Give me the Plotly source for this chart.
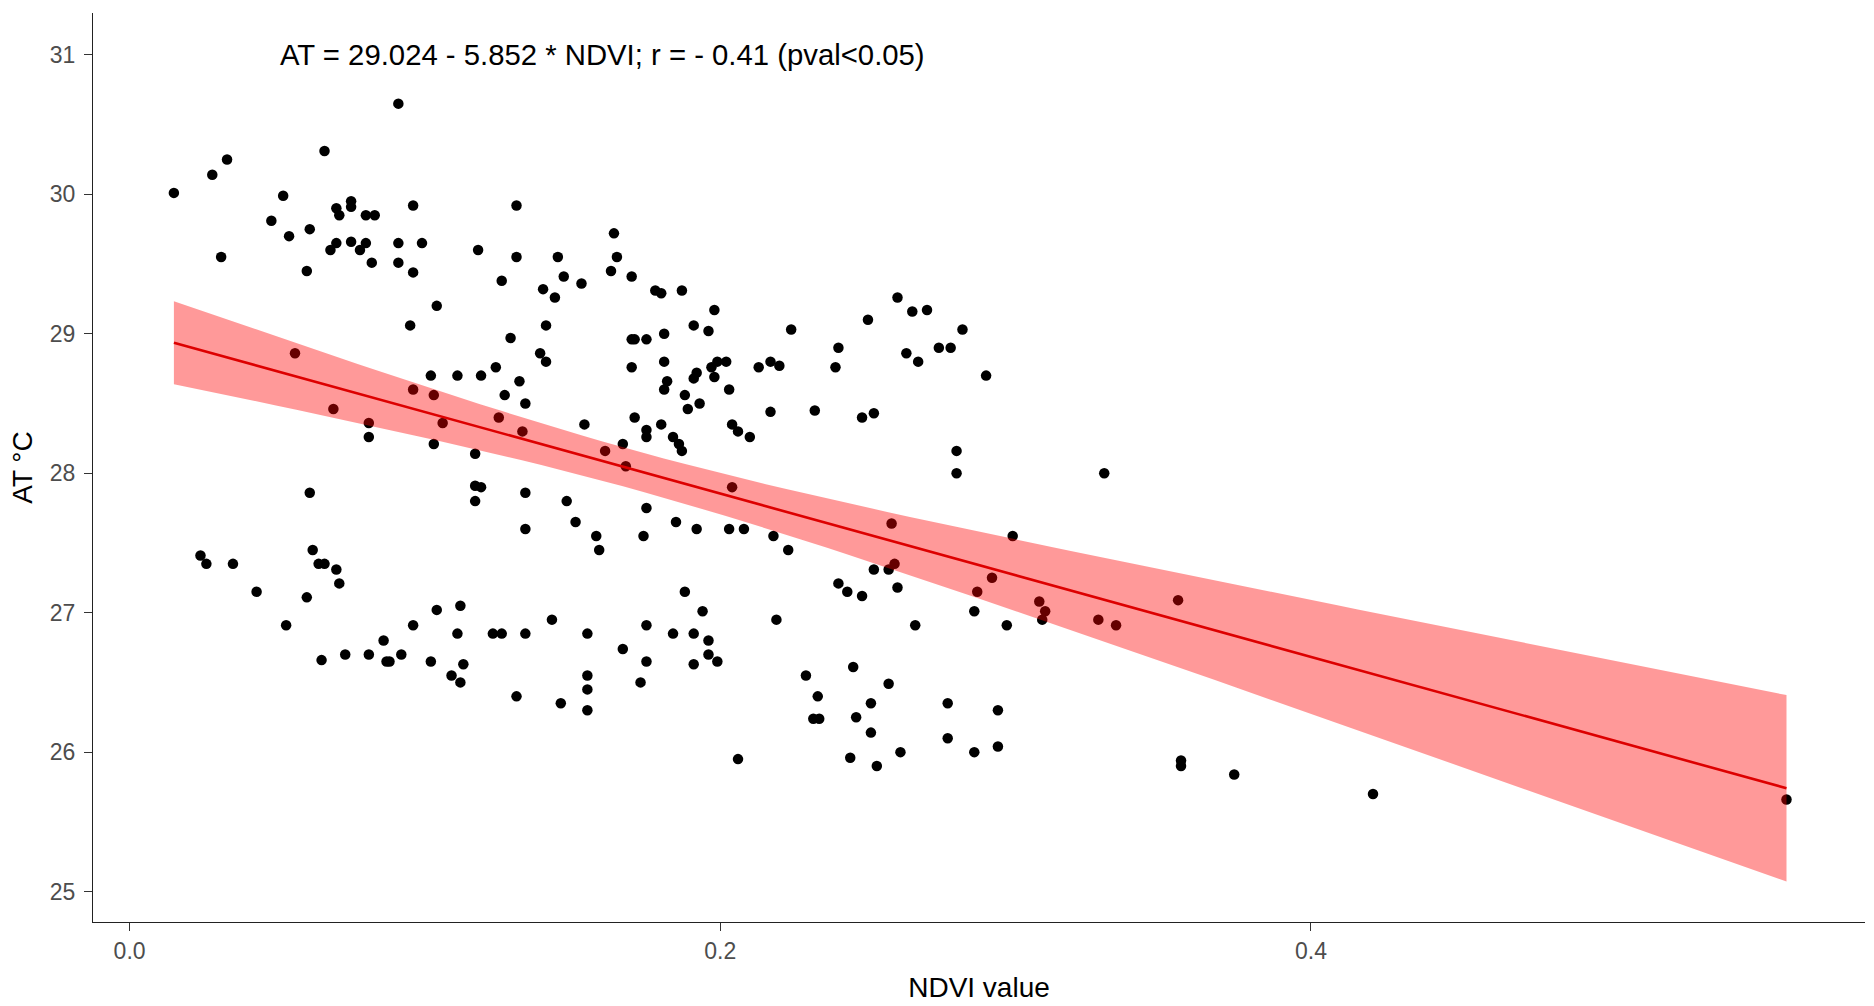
import numpy as np
import plotly.graph_objects as go

# NDVI values (x) and air temperature AT (y)
ndvi = [
    0.015, 0.028, 0.033, 0.031, 0.091, 0.066, 0.052, 0.048, 0.054, 0.061,
    0.060, 0.070, 0.071, 0.075, 0.075, 0.080, 0.083, 0.068, 0.070, 0.075,
    0.078, 0.080, 0.082, 0.096, 0.091, 0.099, 0.091, 0.096, 0.104, 0.095,
    0.131, 0.118, 0.131, 0.145, 0.126, 0.147, 0.153, 0.140, 0.144, 0.141,
    0.129, 0.139, 0.141, 0.124, 0.102, 0.111, 0.119, 0.132, 0.127, 0.134,
    0.056, 0.096, 0.103, 0.069, 0.081, 0.081, 0.106, 0.103, 0.117, 0.125,
    0.133, 0.154, 0.161,
    0.164, 0.165, 0.163, 0.170, 0.178, 0.180, 0.187, 0.198, 0.191, 0.196,
    0.224, 0.250, 0.260, 0.265, 0.270, 0.282, 0.240, 0.274, 0.278, 0.263,
    0.267, 0.290, 0.239, 0.170, 0.171, 0.175, 0.181, 0.170, 0.181, 0.182,
    0.181, 0.192, 0.191, 0.197, 0.199, 0.202, 0.198, 0.203, 0.213, 0.217,
    0.220, 0.188, 0.193, 0.189, 0.217, 0.232, 0.248, 0.252, 0.171, 0.180,
    0.175, 0.175, 0.184, 0.186, 0.187, 0.204, 0.206, 0.210, 0.280, 0.167,
    0.168,
    0.061, 0.117, 0.119, 0.117, 0.134, 0.134, 0.148, 0.151, 0.158, 0.159,
    0.024, 0.026, 0.035, 0.043, 0.062, 0.064, 0.066, 0.070, 0.071, 0.060,
    0.053, 0.065, 0.073, 0.081, 0.086, 0.087, 0.088, 0.092, 0.096, 0.104,
    0.102, 0.112, 0.111, 0.113, 0.109, 0.112, 0.123, 0.126, 0.134, 0.131,
    0.143, 0.146, 0.155, 0.155, 0.155, 0.155,
    0.280, 0.330, 0.204, 0.175, 0.174, 0.185, 0.192, 0.203, 0.208, 0.218,
    0.223, 0.258, 0.259, 0.257, 0.252, 0.260, 0.240, 0.243, 0.248, 0.266,
    0.299, 0.292, 0.287, 0.286, 0.297, 0.308, 0.310, 0.309, 0.328, 0.334,
    0.355, 0.356, 0.356, 0.188, 0.194, 0.175, 0.184, 0.191, 0.196, 0.196,
    0.199, 0.167, 0.175, 0.191, 0.173, 0.219, 0.206, 0.229, 0.233, 0.2315,
    0.2335, 0.245, 0.251, 0.246, 0.251, 0.244, 0.253, 0.257, 0.261, 0.277,
    0.277, 0.286, 0.294, 0.294,
    0.374, 0.421, 0.561,
]
at = [
    30.01, 30.14, 30.25, 29.55, 30.65, 30.31, 29.99, 29.81, 29.70, 29.75,
    29.45, 29.90, 29.85, 29.95, 29.91, 29.85, 29.85, 29.60, 29.65, 29.66,
    29.60, 29.65, 29.51, 29.92, 29.65, 29.65, 29.51, 29.44, 29.20, 29.06,
    29.92, 29.60, 29.55, 29.55, 29.38, 29.41, 29.36, 29.32, 29.26, 29.06,
    28.97, 28.86, 28.80, 28.76, 28.70, 28.70, 28.70, 28.66, 28.56, 28.50,
    28.86, 28.60, 28.56, 28.46, 28.36, 28.26, 28.36, 28.21, 28.14, 28.40,
    28.30, 28.35, 28.16,
    29.72, 29.55, 29.45, 29.41, 29.31, 29.29, 29.31, 29.17, 29.06, 29.02,
    29.03, 29.10, 29.26, 29.16, 29.17, 29.03, 28.90, 28.90, 28.90, 28.86,
    28.80, 28.70, 28.76, 28.96, 28.96, 28.96, 29.00, 28.76, 28.80, 28.66,
    28.60, 28.72, 28.68, 28.76, 28.80, 28.80, 28.69, 28.60, 28.76, 28.80,
    28.77, 28.56, 28.50, 28.46, 28.44, 28.45, 28.40, 28.43, 28.40, 28.35,
    28.31, 28.26, 28.26, 28.21, 28.16, 28.35, 28.30, 28.26, 28.16, 28.21,
    28.05,
    27.86, 27.91, 27.90, 27.80, 27.86, 27.60, 27.80, 27.65, 27.55, 27.45,
    27.41, 27.35, 27.35, 27.15, 27.45, 27.35, 27.35, 27.31, 27.21, 27.11,
    26.91, 26.66, 26.70, 26.70, 26.80, 26.65, 26.65, 26.70, 26.91, 27.02,
    26.65, 27.05, 26.85, 26.63, 26.55, 26.50, 26.85, 26.85, 26.85, 26.40,
    26.95, 26.35, 26.85, 26.55, 26.45, 26.30,
    28.00, 28.00, 27.90, 27.75, 27.55, 27.65, 27.60, 27.60, 27.60, 27.55,
    27.45, 27.64, 27.35, 27.31, 27.31, 27.18, 27.21, 27.15, 27.12, 26.91,
    27.55, 27.25, 27.15, 27.01, 26.91, 27.08, 27.01, 26.95, 26.95, 26.91,
    27.09, 25.94, 25.90, 27.15, 27.01, 26.91, 26.85, 26.85, 26.80, 26.70,
    26.65, 26.74, 26.65, 26.63, 26.50, 26.95, 25.95, 26.55, 26.40, 26.24,
    26.24, 26.61, 26.35, 26.25, 26.14, 25.96, 25.90, 26.49, 26.00, 26.35,
    26.10, 26.00, 26.30, 26.04,
    25.84, 25.70, 25.66,
]

# regression coefficients printed on the chart
intercept = 29.024
slope = -5.852
annotation_text = "AT = 29.024 - 5.852 * NDVI; r = - 0.41 (pval<0.05)"

x_ticks = [0.0, 0.2, 0.4]
x_tick_text = ["0.0", "0.2", "0.4"]
y_ticks = [25, 26, 27, 28, 29, 30, 31]

# linear fit and 95% confidence band (as geom_smooth(method="lm"))
x = np.array(ndvi)
y = np.array(at)
n = len(x)
resid = y - (intercept + slope * x)
s = np.sqrt(np.sum(resid ** 2) / (n - 2))
xbar = x.mean()
sxx = np.sum((x - xbar) ** 2)
xs = np.linspace(x.min(), x.max(), 80)
fit = intercept + slope * xs
se = s * np.sqrt(1.0 / n + (xs - xbar) ** 2 / sxx)
tq = 1.970
upper = fit + tq * se
lower = fit - tq * se

fig = go.Figure()
fig.add_trace(go.Scatter(
    x=ndvi, y=at, mode="markers",
    marker=dict(color="black", size=10.5),
    showlegend=False, hoverinfo="x+y",
))
fig.add_trace(go.Scatter(
    x=np.concatenate([xs, xs[::-1]]),
    y=np.concatenate([upper, lower[::-1]]),
    fill="toself", fillcolor="rgba(255,0,0,0.4)",
    line=dict(width=0), mode="lines",
    showlegend=False, hoverinfo="skip",
))
fig.add_trace(go.Scatter(
    x=xs, y=fit, mode="lines",
    line=dict(color="#DD0000", width=2.6),
    showlegend=False,
))

fig.add_annotation(
    x=0.16, y=31, xref="x", yref="y", text=annotation_text,
    showarrow=False, font=dict(family="Liberation Sans, Arial", size=29.3, color="black"),
    xanchor="center", yanchor="middle",
)

axis_common = dict(
    showgrid=False, zeroline=False, showline=True,
    linecolor="#222222", linewidth=1.3,
    ticks="outside", ticklen=8, tickwidth=1.3, tickcolor="#333333",
    tickfont=dict(family="Liberation Sans, Arial", size=23, color="#4D4D4D"),
)

fig.update_layout(
    width=1874, height=1006,
    margin=dict(l=93, r=9, t=13, b=76, pad=0),
    paper_bgcolor="white", plot_bgcolor="white",
    font=dict(family="Liberation Sans, Arial"),
    xaxis=dict(
        range=[-0.01239, 0.58758], tickvals=x_ticks, ticktext=x_tick_text,
        title=dict(text="NDVI value", font=dict(size=28, color="black"), standoff=14),
        **axis_common,
    ),
    yaxis=dict(
        range=[24.782, 31.30], tickvals=y_ticks, ticklabelstandoff=4,
        title=dict(text="AT °C", font=dict(size=28, color="black"), standoff=8),
        **axis_common,
    ),
)

fig.write_html("out.html", config={"displayModeBar": False},
               post_script="document.body.style.margin='0';")
